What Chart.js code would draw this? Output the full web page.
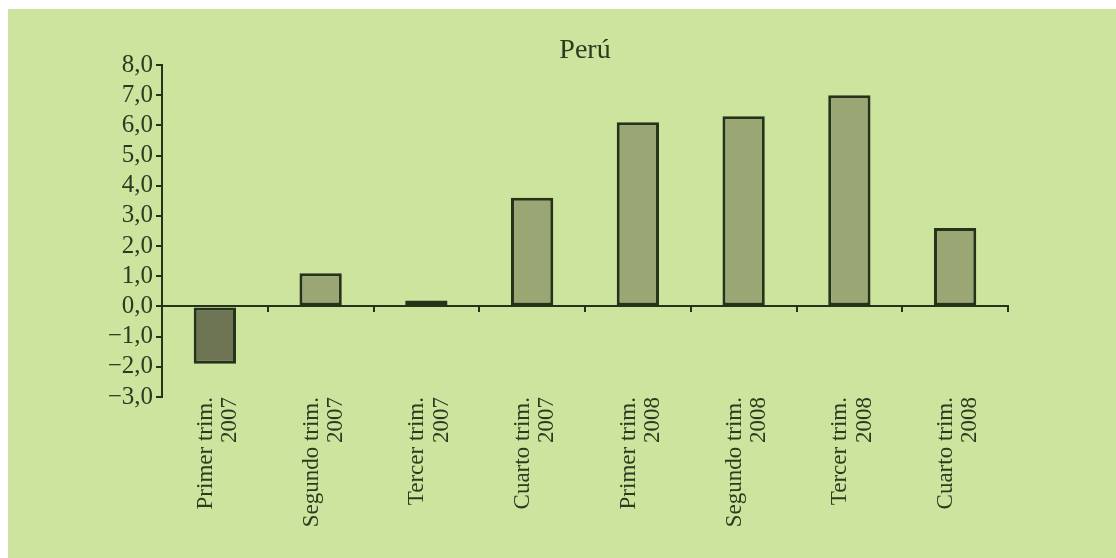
<!DOCTYPE html>
<html>
<head>
<meta charset="utf-8">
<script src="https://cdn.jsdelivr.net/npm/chart.js@4"></script>
<style>
  html, body { margin: 0; padding: 0; background: #ffffff; }
  #panel {
    position: absolute; left: 8px; top: 9px;
    width: 1108px; height: 549px;
    background: #cde49f;
  }
  canvas { display: block; }
</style>
</head>
<body>
<div id="panel"><canvas id="c" width="1108" height="549"></canvas></div>
<script>
// Quarterly growth, Perú (%)
const quarters = [
  ["Primer trim.", "2007"],
  ["Segundo trim.", "2007"],
  ["Tercer trim.", "2007"],
  ["Cuarto trim.", "2007"],
  ["Primer trim.", "2008"],
  ["Segundo trim.", "2008"],
  ["Tercer trim.", "2008"],
  ["Cuarto trim.", "2008"]
];
const growth = [-1.9, 1.1, 0.2, 3.6, 6.1, 6.3, 7.0, 2.6];
const chartTitle = "Perú";
const yMin = -3, yMax = 8, yStep = 1;

const ink = "#26331b";
const textInk = "#2c3a20";
const barFill = "#9aa774";
const negFill = "#6c7453";
const serif = "'Liberation Serif', 'Times New Roman', serif";

// Title drawn centred over the plotting area
const titlePlugin = {
  id: "areaTitle",
  afterDraw(chart) {
    const { ctx, chartArea } = chart;
    ctx.save();
    ctx.font = "28px " + serif;
    ctx.fillStyle = textInk;
    ctx.textAlign = "center";
    ctx.textBaseline = "middle";
    ctx.fillText(chartTitle, (chartArea.left + chartArea.right) / 2, chartArea.top - 14);
    ctx.restore();
  }
};

const fmt = v => (v < 0 ? "\u2212" : "") + Math.abs(v).toFixed(1).replace(".", ",");

new Chart(document.getElementById("c"), {
  type: "bar",
  data: {
    labels: quarters,
    datasets: [{
      data: growth,
      backgroundColor: growth.map(v => v < 0 ? negFill : barFill),
      borderColor: ink,
      borderWidth: 3,
      borderSkipped: false,
      barPercentage: 0.4,
      categoryPercentage: 1.0
    }]
  },
  options: {
    responsive: false,
    animation: false,
    events: [],
    layout: { padding: { left: 0, right: 108, top: 56, bottom: 0 } },
    plugins: { legend: { display: false }, tooltip: { enabled: false }, title: { display: false } },
    scales: {
      x: {
        type: "category",
        position: "bottom",
        grid: { display: false, drawTicks: false },
        border: { display: false },
        ticks: {
          minRotation: 90, maxRotation: 90,
          autoSkip: false,
          padding: 0,
          labelOffset: -9,
          color: textInk,
          font: { family: serif, size: 23, lineHeight: 1.05 }
        },
        afterFit(scale) { scale.height = 161; }
      },
      x0: {
        type: "category",
        position: { y: 0 },
        grid: { offset: true, drawOnChartArea: false, drawTicks: true, tickLength: 5, color: ink, lineWidth: 2 },
        border: { display: true, color: ink, width: 2 },
        ticks: { display: false }
      },
      y: {
        min: yMin, max: yMax,
        grid: { drawOnChartArea: false, drawTicks: true, tickLength: 6, color: ink, lineWidth: 2 },
        border: { display: true, color: ink, width: 2 },
        ticks: {
          stepSize: yStep,
          autoSkip: false,
          padding: 3,
          color: textInk,
          font: { family: serif, size: 25, lineHeight: 1.0 },
          callback: v => fmt(v)
        },
        afterFit(scale) { scale.width = 154; }
      }
    }
  },
  plugins: [titlePlugin]
});
</script>
</body>
</html>
